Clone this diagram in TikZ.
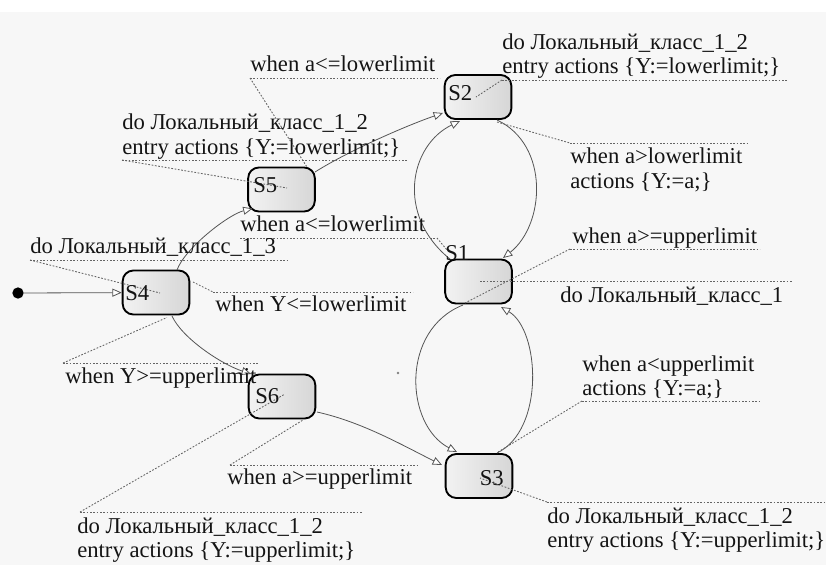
\documentclass[tikz,border=0pt]{standalone}
\usepackage{fontspec}
\setmainfont{Liberation Serif}
\usetikzlibrary{arrows.meta}
\definecolor{bgc}{RGB}{247,247,247}
\definecolor{txt}{RGB}{20,20,20}
\definecolor{trc}{RGB}{85,85,85}
\definecolor{ldc}{RGB}{100,100,100}
\begin{document}
\begin{tikzpicture}[x=0.75pt,y=-0.75pt,
  state/.style={draw=black, line width=1.4pt, rounded corners=8pt, minimum width=50pt, minimum height=33pt, left color=gray!10, right color=gray!32, inner sep=0pt},
  tr/.style={draw=trc, line width=0.6pt, -{Triangle[open,length=7pt,width=6pt,fill=white]}},
  ld/.style={draw=ldc, line width=0.65pt, dash pattern=on 1.3pt off 1.2pt},
  lbl/.style={anchor=base west, inner sep=0pt, text=txt, font=\fontsize{17}{20}\selectfont},
  nm/.style={inner sep=0pt, text=txt, font=\fontsize{17}{20}\selectfont}
]
\useasboundingbox (0,0) rectangle (826,565);
\fill[white] (0,0) rectangle (826,565);
\fill[bgc] (0,12) rectangle (826,565);

% states
\node[state] (S2) at (478,97) {};
\node[state] (S5) at (281.5,189.5) {};
\node[state] (S4) at (156,292.5) {};
\node[state] (S1) at (478.5,281.5) {};
\node[state] (S6) at (282,396.5) {};
\node[state] (S3) at (479,476) {};
\node[circle, fill=black, inner sep=0pt, minimum size=8.5pt] (init) at (18,293) {};
\fill[gray] (398,373) circle (1.3);

% transitions
\draw[tr] (init) -- (S4);
\draw[tr] ([shift={(21,-22.5)}]S4.center) .. controls +(8,-22) and +(-24,6) .. ([shift={(-29,19)}]S5.center);
\draw[tr] ([shift={(33.5,-17.5)}]S5.center) .. controls +(35,-22) and +(-35,12) .. ([shift={(-35,16)}]S2.center);
\draw[tr] ([shift={(-28,-22)}]S1.center) .. controls +(-55.5,-44.5) and +(-50,24) .. ([shift={(-18,24)}]S2.center);
\draw[tr] ([shift={(19,23)}]S2.center) .. controls +(53,25) and +(42,-33) .. ([shift={(24.5,-23.5)}]S1.center);
\draw[tr] ([shift={(-15.5,23.5)}]S1.center) .. controls +(-63,25) and +(-52,-27) .. ([shift={(-22,-24)}]S3.center);
\draw[tr] ([shift={(18,-23)}]S3.center) .. controls +(48,-23) and +(39,23) .. ([shift={(22.5,25.5)}]S1.center);
\draw[tr] ([shift={(16,23.5)}]S4.center) .. controls +(10,22) and +(-30,-10) .. ([shift={(-31,-22.5)}]S6.center);
\draw[tr] ([shift={(35,15.5)}]S6.center) .. controls +(45,10) and +(-40,-20) .. ([shift={(-37,-11)}]S3.center);

% underline coordinates
\coordinate (u1a) at (250,78);   \coordinate (u1b) at (440,78);
\coordinate (u2a) at (122,160);  \coordinate (u2b) at (407,160);
\coordinate (u3a) at (502,80);   \coordinate (u3b) at (787,80);
\coordinate (u4a) at (570,143);  \coordinate (u4b) at (747,143);
\coordinate (u5a) at (240,238);  \coordinate (u5b) at (437,238);
\coordinate (u6a) at (30,260);   \coordinate (u6b) at (287,260);
\coordinate (u7a) at (213,292);  \coordinate (u7b) at (413,292);
\coordinate (u8a) at (570,249);  \coordinate (u8b) at (760,249);
\coordinate (u9b) at (793,281);
\coordinate (u10a) at (582,401); \coordinate (u10b) at (760,401);
\coordinate (u11a) at (63,363);  \coordinate (u11b) at (258,363);
\coordinate (u12a) at (230,465); \coordinate (u12b) at (417,465);
\coordinate (u13a) at (80,512);  \coordinate (u13b) at (363,512);
\coordinate (u14a) at (547,502); \coordinate (u14b) at (826,502);

\draw[ld] (u1a) -- (u1b);
\draw[ld] (u2a) -- (u2b);
\draw[ld] (u3a) -- (u3b);
\draw[ld] (u4a) -- (u4b);
\draw[ld] (u5a) -- (u5b);
\draw[ld] (u6a) -- (u6b);
\draw[ld] (u7a) -- (u7b);
\draw[ld] (u8a) -- (u8b);
\draw[ld] (u10a) -- (u10b);
\draw[ld] (u11a) -- (u11b);
\draw[ld] (u12a) -- (u12b);
\draw[ld] (u13a) -- (u13b);
\draw[ld] (u14a) -- (u14b);

% leaders
\draw[ld] (u1a) -- ([shift={(25.5,-22.5)}]S5.center);
\draw[ld] (u2a) -- ([shift={(5.5,-1.5)}]S5.center);
\draw[ld] (u3a) -- ([shift={(-2,0)}]S2.center);
\draw[ld] ([shift={(19,25)}]S2.center) -- (u4a);
\draw[ld] (u5b) -- ([shift={(-31.5,-31.5)}]S1.center);
\draw[ld] (u6a) -- ([shift={(4,0.5)}]S4.center);
\draw[ld] ([shift={(37,-10.5)}]S4.center) -- (u7a);
\draw[ld] (u8a) -- ([shift={(-13.5,21.5)}]S1.center);
\draw[ld] ([shift={(1.5,-0.5)}]S1.center) -- (u9b);
\draw[ld] (u10a) -- ([shift={(19,-24)}]S3.center);
\draw[ld] (u11a) -- ([shift={(11,25)}]S4.center);
\draw[ld] (u12a) -- ([shift={(21,23.5)}]S6.center);
\draw[ld] (u13a) -- ([shift={(3,-2.5)}]S6.center);
\draw[ld] (u14a) -- ([shift={(1,2)}]S3.center);

% state names
\node[nm, anchor=base west] (n2) at (448,100) {S2};
\node[nm, anchor=base west] (n5) at (253,192) {S5};
\node[nm, anchor=base west] (n4) at (125,300) {S4};
\node[nm, anchor=base west] (n1) at (445,260) {S1};
\node[nm, anchor=base west] (n6) at (255,403) {S6};
\node[nm, anchor=base east] (n3) at (504,485) {S3};

% labels
\node[lbl] (t1) at (250,71) {when a<=lowerlimit};
\node[lbl] (t2a) at (122,129) {do Локальный\_класс\_1\_2};
\node[lbl] (t2b) at (122,154) {entry actions \{Y:=lowerlimit;\}};
\node[lbl] (t3a) at (502,49) {do Локальный\_класс\_1\_2};
\node[lbl] (t3b) at (502,73.5) {entry actions \{Y:=lowerlimit;\}};
\node[lbl] (t4a) at (570,163) {when a>lowerlimit};
\node[lbl] (t4b) at (570,188) {actions \{Y:=a;\}};
\node[lbl] (t5) at (240,231) {when a<=lowerlimit};
\node[lbl] (t6) at (30,253) {do Локальный\_класс\_1\_3};
\node[lbl] (t7) at (215,311) {when Y<=lowerlimit};
\node[lbl] (t8) at (572,243) {when a>=upperlimit};
\node[lbl] (t9) at (560,302) {do Локальный\_класс\_1};
\node[lbl] (t10a) at (582,371) {when a<upperlimit};
\node[lbl] (t10b) at (582,395) {actions \{Y:=a;\}};
\node[lbl] (t11) at (65,383) {when Y>=upperlimit};
\node[lbl] (t12) at (227,484) {when a>=upperlimit};
\node[lbl] (t13a) at (77,533) {do Локальный\_класс\_1\_2};
\node[lbl] (t13b) at (77,557) {entry actions \{Y:=upperlimit;\}};
\node[lbl] (t14a) at (547,523) {do Локальный\_класс\_1\_2};
\node[lbl] (t14b) at (547,547) {entry actions \{Y:=upperlimit;\}};
\end{tikzpicture}
\end{document}
